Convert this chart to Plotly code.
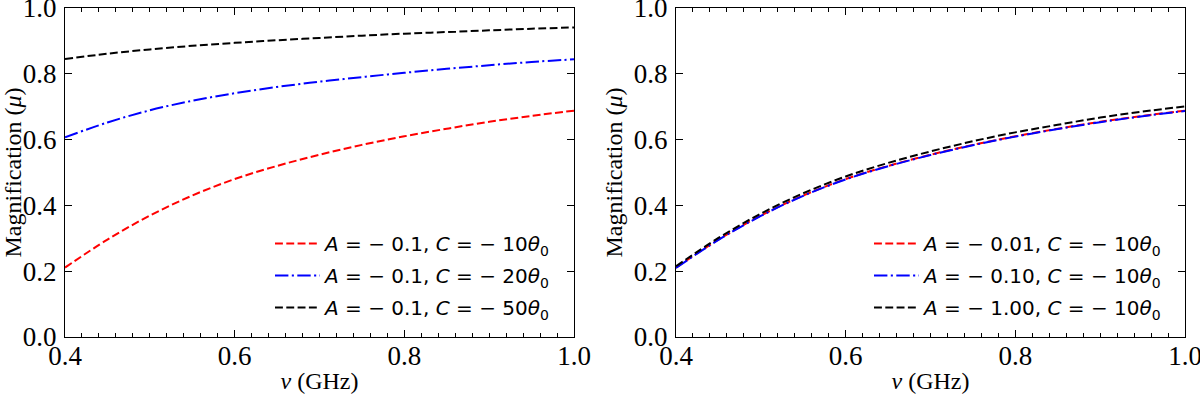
import plotly.graph_objects as go
from plotly.subplots import make_subplots

nu = [0.40, 0.45, 0.50, 0.55, 0.60, 0.65, 0.70, 0.75, 0.80, 0.85, 0.90, 0.95, 1.00]
ticks = [0.0, 0.2, 0.4, 0.6, 0.8, 1.0]
xticks = [0.4, 0.6, 0.8, 1.0]

# left panel: A = -0.1, C varies
mu_c10 = [0.211, 0.296, 0.369, 0.430, 0.480, 0.520, 0.554, 0.584, 0.610, 0.633, 0.654, 0.672, 0.688]
mu_c20 = [0.607, 0.652, 0.689, 0.718, 0.741, 0.760, 0.776, 0.790, 0.803, 0.815, 0.826, 0.836, 0.844]
mu_c50 = [0.845, 0.861, 0.874, 0.885, 0.894, 0.902, 0.909, 0.916, 0.922, 0.927, 0.932, 0.937, 0.941]

# right panel: C = -10 theta0, A varies
mu_a001 = [0.211, 0.296, 0.369, 0.430, 0.480, 0.520, 0.554, 0.584, 0.610, 0.633, 0.654, 0.672, 0.688]
mu_a010 = [0.210, 0.295, 0.368, 0.429, 0.479, 0.519, 0.553, 0.583, 0.609, 0.632, 0.653, 0.671, 0.687]
mu_a100 = [0.215, 0.301, 0.375, 0.437, 0.488, 0.529, 0.564, 0.595, 0.622, 0.645, 0.667, 0.685, 0.701]

left_names = ["<i>A</i> = − 0.1, <i>C</i> = − 10<i>θ</i><sub>0</sub>",
              "<i>A</i> = − 0.1, <i>C</i> = − 20<i>θ</i><sub>0</sub>",
              "<i>A</i> = − 0.1, <i>C</i> = − 50<i>θ</i><sub>0</sub>"]
right_names = ["<i>A</i> = − 0.01, <i>C</i> = − 10<i>θ</i><sub>0</sub>",
               "<i>A</i> = − 0.10, <i>C</i> = − 10<i>θ</i><sub>0</sub>",
               "<i>A</i> = − 1.00, <i>C</i> = − 10<i>θ</i><sub>0</sub>"]

dash = "7.9px,3.4px"
dashdot = "13.4px,3.4px,2.1px,3.4px"
colors = ["#ff0000", "#0000ff", "#000000"]
dashes = [dash, dashdot, dash]

fig = make_subplots(rows=1, cols=2)

k = 0
for ys, name, c, d in zip([mu_c10, mu_c20, mu_c50], left_names, colors, dashes):
    fig.add_trace(go.Scatter(x=nu, y=ys, name=name, mode="lines", line_shape="spline",
                             line=dict(color=c, width=2, dash=d), legend="legend",
                             legendgroup="g%d" % k), row=1, col=1)
    k += 1
for ys, name, c, d in zip([mu_a001, mu_a010, mu_a100], right_names, colors, dashes):
    fig.add_trace(go.Scatter(x=nu, y=ys, name=name, mode="lines", line_shape="spline",
                             line=dict(color=c, width=2, dash=d), legend="legend2",
                             legendgroup="g%d" % k), row=1, col=2)
    k += 1

serif = "Liberation Serif"
tick_font = dict(family=serif, size=27, color="black")
title_font = dict(family=serif, size=24, color="black")

axis_common = dict(showline=True, linecolor="black", linewidth=1.2, mirror="allticks",
                   ticks="inside", ticklen=7, tickwidth=1.2, tickcolor="black",
                   showgrid=False, zeroline=False, automargin=False,
                   ticklabeloverflow="allow")

xdoms = [[65 / 1200, 574 / 1200], [676 / 1200, 1185 / 1200]]
ydom = [(394 - 337) / 394, (394 - 8) / 394]

for i, xd in enumerate(xdoms, start=1):
    fig.update_xaxes(range=[0.4, 1.0], domain=xd, tickmode="array", tickvals=xticks,
                     ticktext=["%.1f" % v for v in xticks], tickfont=tick_font,
                     ticklabelstandoff=-6,
                     minor=dict(dtick=0.02, ticks="inside", ticklen=4, tickcolor="black", tickwidth=1),
                     title=dict(text="<i>ν</i> (GHz)", font=title_font, standoff=6),
                     **axis_common, row=1, col=i)
    fig.update_yaxes(range=[0, 1.0], domain=ydom, tickmode="array", tickvals=ticks,
                     ticktext=["%.1f" % v for v in ticks], tickfont=tick_font,
                     ticklabelstandoff=2,
                     title=dict(text="Magnification (<i>μ</i>)", font=title_font, standoff=4),
                     **axis_common, row=1, col=i)

legend_common = dict(font=dict(family="DejaVu Sans", size=20, color="black"),
                     bgcolor="rgba(0,0,0,0)", borderwidth=0, xanchor="right", yanchor="bottom",
                     tracegroupgap=3, itemwidth=45)
fig.update_layout(
    width=1200, height=394,
    margin=dict(l=0, r=0, t=0, b=0),
    font=dict(family=serif, color="black"),
    paper_bgcolor="white", plot_bgcolor="white",
    showlegend=True,
    legend=dict(x=556 / 1200, y=(394 - 327) / 394, **legend_common),
    legend2=dict(x=1168 / 1200, y=(394 - 327) / 394, **legend_common),
)

fig.write_html("out.html", config={"displayModeBar": False},
               post_script="document.body.style.margin='0';")
